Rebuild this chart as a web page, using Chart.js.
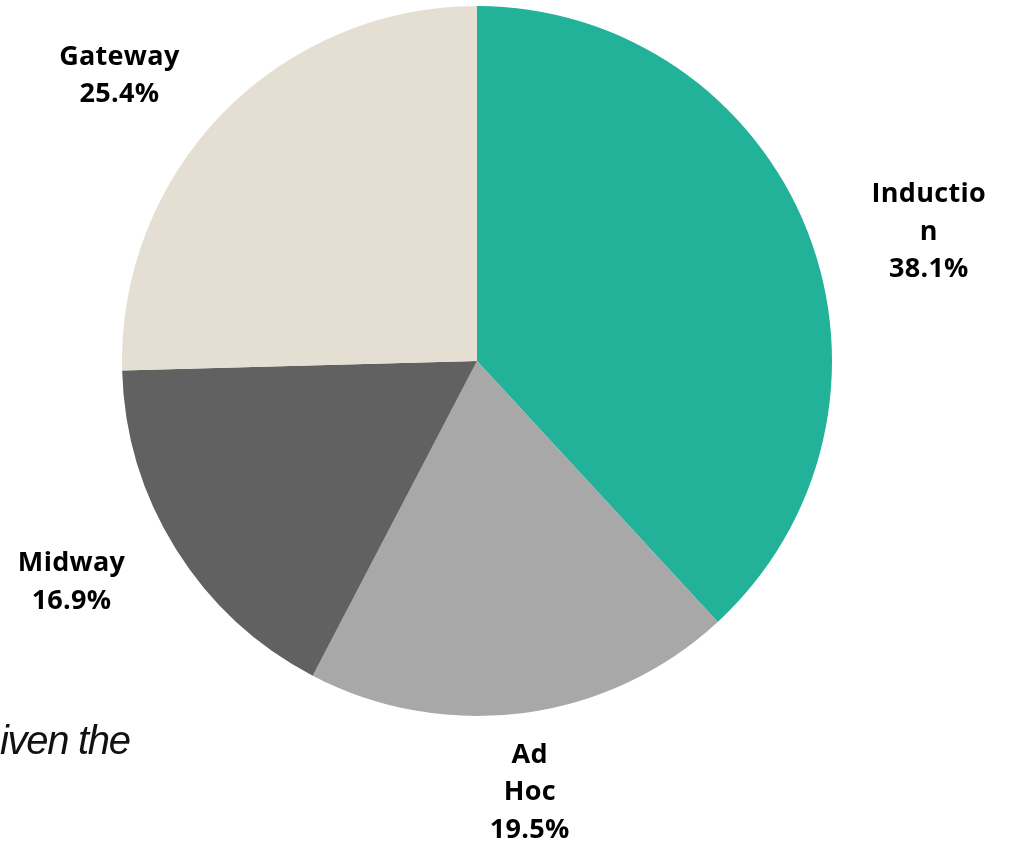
<!DOCTYPE html>
<html>
<head>
<meta charset="utf-8">
<script src="https://cdn.jsdelivr.net/npm/chart.js@4/dist/chart.umd.min.js"></script>
<style>
  html, body { margin: 0; padding: 0; background: #ffffff; }
  #wrap { position: relative; width: 1009px; height: 843px; }
</style>
</head>
<body>
<div id="wrap"><canvas id="pieChart"></canvas></div>
<script>
// Share of sessions by programme stage
const stages = ['Induction', 'Ad Hoc', 'Midway', 'Gateway'];
const shares = [38.1, 19.5, 16.9, 25.4];
const labelLines = [['Inductio', 'n'], ['Ad', 'Hoc'], ['Midway'], ['Gateway']];
const sliceColors = ['#22b299', '#a8a8a8', '#616161', '#e4dfd2'];

// Draws the stage name + percentage outside each slice
const outerLabels = {
  id: 'outerLabels',
  afterDatasetsDraw(chart, args, opts) {
    const ctx = chart.ctx;
    const arcs = chart.getDatasetMeta(0).data;
    ctx.save();
    ctx.fillStyle = '#000000';
    ctx.font = '700 27px "Open Sans"';
    ctx.letterSpacing = '0.3px';
    ctx.textAlign = 'center';
    ctx.textBaseline = 'middle';
    arcs.forEach((arc, i) => {
      const p = arc.getProps(['x', 'y', 'startAngle', 'endAngle', 'outerRadius'], true);
      const mid = (p.startAngle + p.endAngle) / 2;
      const r = p.outerRadius * opts.radius;
      const nudge = opts.nudges[i];
      const cx = p.x + Math.cos(mid) * r + nudge[0];
      const cy = p.y + Math.sin(mid) * r + nudge[1];
      const lines = labelLines[i].concat([shares[i].toFixed(1) + '%']);
      const top = cy - (lines.length - 1) * opts.lineHeight / 2;
      lines.forEach((t, j) => ctx.fillText(t, cx, top + j * opts.lineHeight));
    });

    // leftover caption text at the lower left edge
    ctx.font = 'italic 400 40px "Liberation Sans"';
    ctx.letterSpacing = '-1.3px';
    ctx.textAlign = 'left';
    ctx.textBaseline = 'alphabetic';
    ctx.fillStyle = '#111111';
    ctx.fillText('iven the', 0, 754);
    ctx.restore();
  }
};

new Chart(document.getElementById('pieChart'), {
  type: 'pie',
  data: {
    labels: stages,
    datasets: [{
      data: shares,
      backgroundColor: sliceColors,
      borderWidth: 0,
      hoverOffset: 0
    }]
  },
  options: {
    responsive: true,
    maintainAspectRatio: false,
    animation: false,
    layout: {
      padding: { left: 122, right: 177, top: 6, bottom: 127 }
    },
    plugins: {
      legend: { display: false },
      tooltip: { enabled: false },
      outerLabels: {
        radius: 1.3,
        lineHeight: 37.5,
        nudges: [[22, 39], [-8, -26], [-14, -23], [-27, 37]]
      }
    }
  },
  plugins: [outerLabels]
});
</script>
</body>
</html>
